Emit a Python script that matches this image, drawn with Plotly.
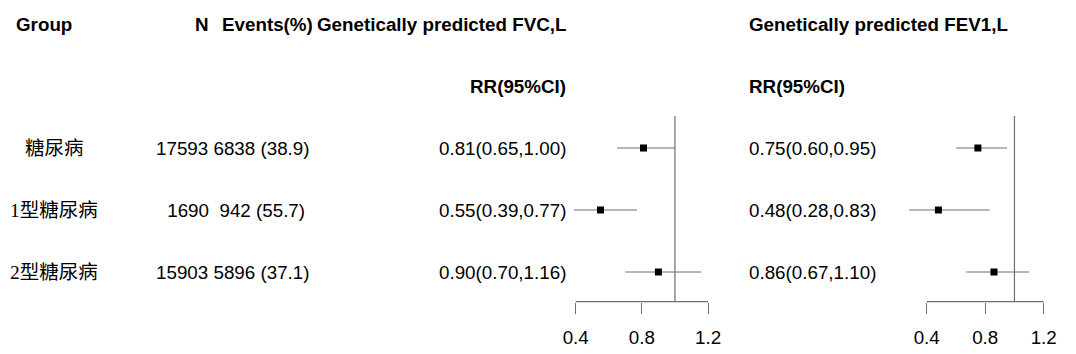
import plotly.graph_objects as go

# ---------------- data ----------------
groups = ["糖尿病", "1型糖尿病", "2型糖尿病"]
n_total = [17593, 1690, 15903]
events = [6838, 942, 5896]
events_pct = [38.9, 55.7, 37.1]

fvc_rr = [0.81, 0.55, 0.90]
fvc_lo = [0.65, 0.39, 0.70]
fvc_hi = [1.00, 0.77, 1.16]

fev_rr = [0.75, 0.48, 0.86]
fev_lo = [0.60, 0.28, 0.67]
fev_hi = [0.95, 0.83, 1.10]

tick_vals = [0.4, 0.8, 1.2]
tick_text = ["0.4", "0.8", "1.2"]
ref_value = 1.0

header_group = "Group"
header_n = "N"
header_events = "Events(%)"
header_fvc = "Genetically predicted FVC,L"
header_fev = "Genetically predicted FEV1,L"
header_rr = "RR(95%CI)"

# ---------------- layout constants (pixels) ----------------
W, H = 1076, 354
ROW0_PX, ROW_STEP = 148.0, 62.0
AXIS_PX = 301.7
REF_TOP_PX = 116.0

def px_to_row(p):
    return (p - ROW0_PX) / ROW_STEP

def pxx(p):
    return p / W

def pxy(p):
    return 1 - p / H

rows = list(range(len(groups)))
axis_row = px_to_row(AXIS_PX)
ref_top_row = px_to_row(REF_TOP_PX)

# FVC axis: 0.4 -> 575.7 px, 165.4 px per unit ; FEV1 axis: 0.4 -> 926.7 px, 146.25 px per unit
def axis_setup(p_anchor, scale, p_left, p_right):
    return [pxx(p_left), pxx(p_right)], [0.4 + (p_left - p_anchor) / scale, 0.4 + (p_right - p_anchor) / scale]

fvc_dom, fvc_rng = axis_setup(575.7, 165.4, 540, 740)
fev_dom, fev_rng = axis_setup(926.7, 146.25, 880, 1076)

LINE_GREY = "#6e6e6e"
TXT = "#000000"
LAT = "Liberation Sans, Arial, sans-serif"
FS = 18.8

fig = go.Figure()

def add_panel(rr, lo, hi, xa):
    xs, ys = [], []
    for r, l, h in zip(rows, lo, hi):
        xs += [l, h, None]
        ys += [r, r, None]
    fig.add_trace(go.Scatter(x=xs, y=ys, mode="lines", xaxis=xa, yaxis="y",
                             line=dict(color=LINE_GREY, width=1), hoverinfo="skip", showlegend=False))
    fig.add_trace(go.Scatter(x=[ref_value, ref_value], y=[ref_top_row, axis_row], mode="lines",
                             xaxis=xa, yaxis="y", line=dict(color=LINE_GREY, width=1.2),
                             hoverinfo="skip", showlegend=False))
    fig.add_trace(go.Scatter(x=[tick_vals[0], tick_vals[-1]], y=[axis_row, axis_row], mode="lines",
                             xaxis=xa, yaxis="y", line=dict(color=LINE_GREY, width=1.2),
                             hoverinfo="skip", showlegend=False))
    fig.add_trace(go.Scatter(x=rr, y=rows, mode="markers", xaxis=xa, yaxis="y",
                             marker=dict(symbol="square", size=7, color="black", line=dict(width=0)),
                             showlegend=False))

add_panel(fvc_rr, fvc_lo, fvc_hi, "x")
add_panel(fev_rr, fev_lo, fev_hi, "x2")

axis_common = dict(anchor="free", position=1 - AXIS_PX / H, showline=False, showgrid=False,
                   zeroline=False, ticks="outside", ticklen=11, tickwidth=1.2, tickcolor=LINE_GREY,
                   tickvals=tick_vals, ticktext=tick_text, ticklabelstandoff=8,
                   tickfont=dict(family=LAT, size=FS, color=TXT),
                   fixedrange=True)

fig.update_layout(
    width=W, height=H, autosize=False,
    margin=dict(l=0, r=0, t=0, b=0, pad=0),
    paper_bgcolor="white", plot_bgcolor="white",
    xaxis=dict(domain=fvc_dom, range=fvc_rng, **axis_common),
    xaxis2=dict(domain=fev_dom, range=fev_rng, **axis_common),
    yaxis=dict(domain=[0, 1], range=[px_to_row(H), px_to_row(0)], visible=False, fixedrange=True),
)

ann = []
def txt(text, x, y, xanchor, bold=False, size=FS, family=LAT, yref="paper"):
    ann.append(dict(text=text, x=x, y=y, xref="paper", yref=yref, xanchor=xanchor, yanchor="middle",
                    showarrow=False, borderpad=0,
                    font=dict(family=family, size=size, color=TXT, weight="bold" if bold else "normal")))

# headers
txt(header_group, pxx(15), pxy(25), "left", bold=True)
txt(header_n, pxx(194), pxy(25), "left", bold=True)
txt(header_events, pxx(220.7), pxy(25), "left", bold=True)
txt(header_fvc, pxx(566.7), pxy(25), "right", bold=True)
txt(header_fev, pxx(748), pxy(25), "left", bold=True)
txt(header_rr, pxx(566.7), pxy(86.5), "right", bold=True)
txt(header_rr, pxx(748), pxy(86.5), "left", bold=True)

NB = "\u00a0"
for r, g, n, e, p, a, al, ah, b, bl, bh in zip(rows, groups, n_total, events, events_pct,
                                              fvc_rr, fvc_lo, fvc_hi, fev_rr, fev_lo, fev_hi):
    txt(g, pxx(54.3), r, "center", size=19.5,
        family="Liberation Serif, Noto Sans CJK SC, serif", yref="y")
    s = str(n).rjust(5, NB) + NB + str(e).rjust(4, NB) + NB + f"({p:.1f})"
    txt(s, pxx(233), r, "center", yref="y")
    txt(f"{a:.2f}({al:.2f},{ah:.2f})", pxx(566.7), r, "right", yref="y")
    txt(f"{b:.2f}({bl:.2f},{bh:.2f})", pxx(748), r, "left", yref="y")

fig.update_layout(annotations=ann)
fig.write_html("out.html")
